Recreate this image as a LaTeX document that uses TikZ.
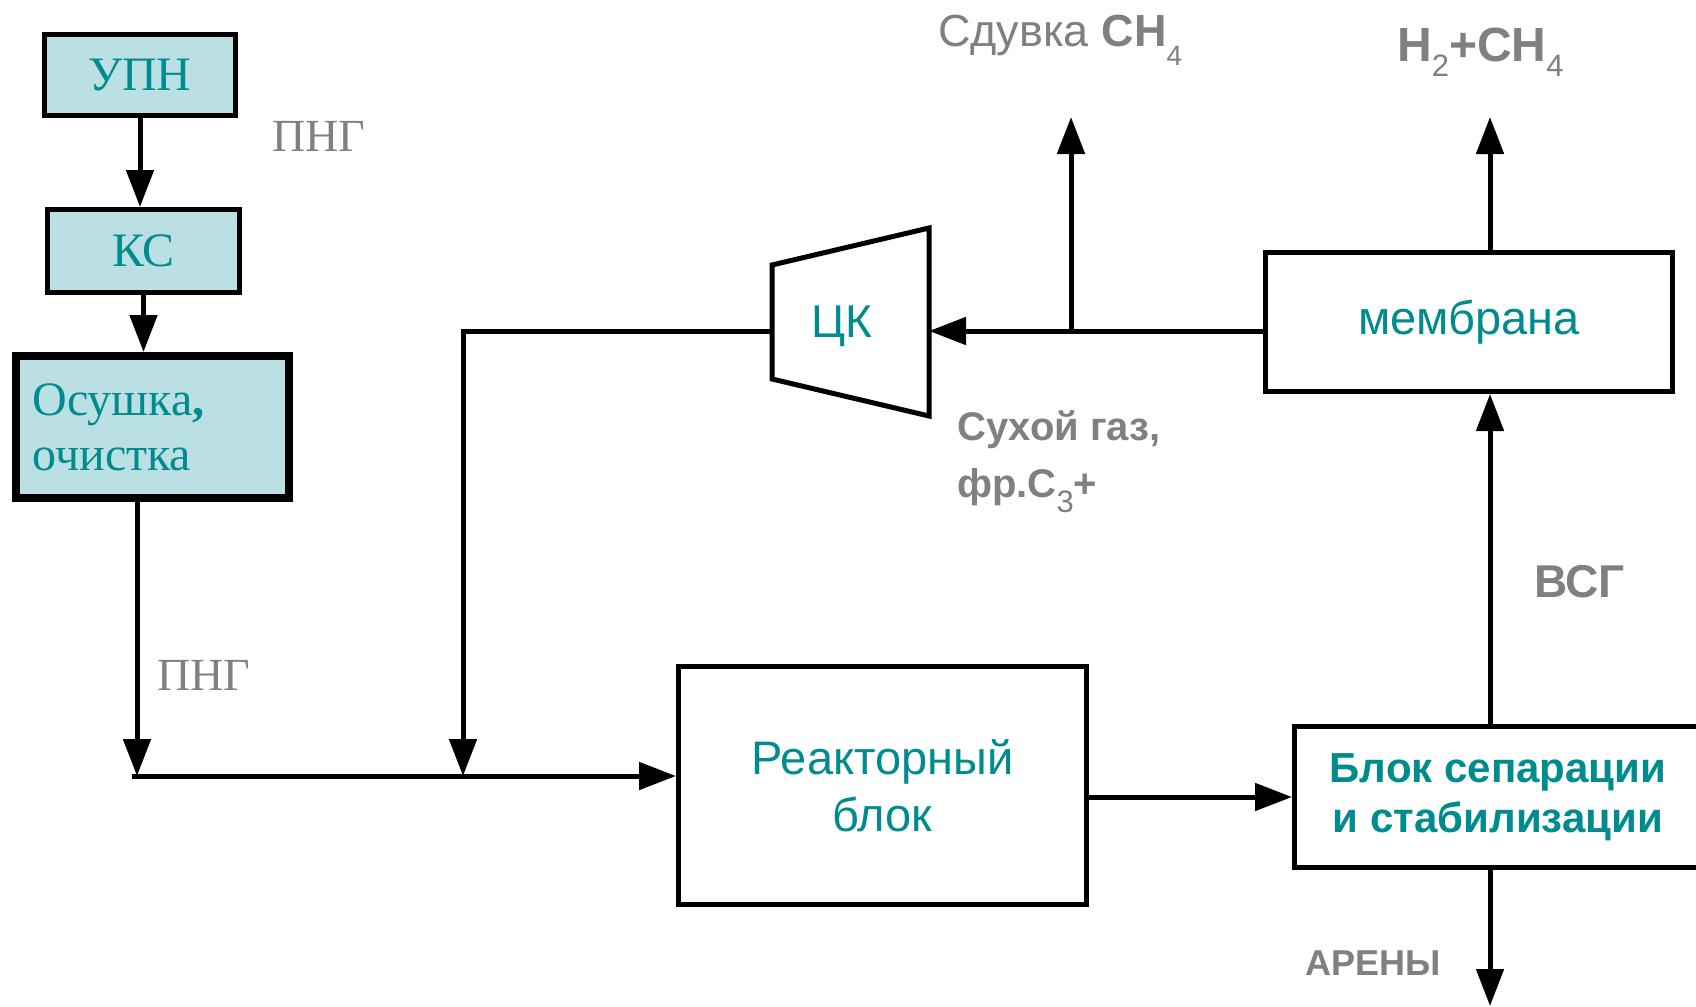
\documentclass[tikz,border=0pt]{standalone}
\usepackage{fontspec}
\setmainfont{Liberation Sans}
\newfontfamily\serifrm{Liberation Serif}
\usetikzlibrary{arrows.meta}
\definecolor{tealtx}{RGB}{0,139,143}
\definecolor{boxfill}{RGB}{186,224,227}
\definecolor{graytx}{RGB}{128,128,128}
\newcommand\lowsub[3]{\raisebox{-#2pt}{\fontsize{#1}{#1}\selectfont\mdseries #3}}
\begin{document}
\begin{tikzpicture}[x=1pt,y=-1pt,
  flow/.style={-{Triangle[length=37pt,width=27pt]}, line width=5pt},
  cbox/.style={draw, fill=boxfill, line width=5pt, inner sep=0pt, text=tealtx,
    font=\serifrm\fontsize{48}{55}\selectfont},
  wbox/.style={draw, fill=white, line width=5pt, inner sep=0pt, text=tealtx, align=center},
  glabel/.style={text=graytx, inner sep=0pt},
  serlabel/.style={glabel, font=\serifrm\fontsize{46}{50}\selectfont}]
\useasboundingbox (0,0) rectangle (1696,1006);
\clip (0,0) rectangle (1696,1006);
\fill[white] (0,0) rectangle (1696,1006);

% left column
\node[cbox, minimum width=191pt, minimum height=81pt] (upn) at (140,75) {УПН};
\node[cbox, minimum width=192pt, minimum height=83pt] (ks) at (143.5,251) {КС};
\node[cbox, line width=8pt, minimum width=273pt, minimum height=142pt,
      text width=240pt, align=left] (osh) at (152.5,427) {Осушка{\bfseries,}\\очистка};

% main blocks
\node[wbox, minimum width=408pt, minimum height=238pt,
      font=\fontsize{47}{57}\selectfont] (reactor) at (882.5,785.5) {Реакторный\\блок};
\node[wbox, minimum width=407pt, minimum height=139pt,
      font=\fontsize{47}{55}\selectfont] (mem) at (1469,322) {мембрана};
\node[wbox, minimum width=407pt, minimum height=141pt,
      font=\bfseries\fontsize{42}{50}\selectfont] (sep) at (1498,797) {Блок сепарации\\и стабилизации};

% compressor (trapezoid)
\draw[line width=5pt, line join=miter] (772,265) -- (929,228) -- (929,416) -- (772,379) -- cycle;
\node[text=tealtx, inner sep=0pt, font=\fontsize{46}{50}\selectfont] (ck) at (842,326) {ЦК};
\coordinate (ckL) at (772,331);
\coordinate (ckR) at (929,331);

% helper coordinates
\coordinate (j1) at (137,776);
\coordinate (s0) at (132,776);
\coordinate (c1) at (463,331);
\coordinate (j2) at (463,776);
\coordinate (b1) at (1071,331);
\coordinate (t1) at (1071,117);
\coordinate (col) at (1490,0);
\coordinate (bt) at (1490,1006);

% connectors
\draw[flow] (upn.south) -- (upn.south |- ks.north);
\draw[flow] (ks.south) -- (ks.south |- osh.north);
\draw[flow] (osh.south -| j1) -- (j1);
\draw[flow] (s0) -- (s0 -| reactor.west);
\draw[flow] (ckL) -- (c1) -- (j2);
\draw[flow] (mem.west |- ckR) -- (ckR);
\draw[flow] (b1) -- (t1);
\draw[flow] (mem.north -| col) -- (col |- t1);
\draw[flow] (reactor.east |- sep.west) -- (sep.west);
\draw[flow] (sep.north -| col) -- (mem.south -| col);
\draw[flow] (sep.south -| col) -- (bt);

% labels
\node[serlabel] (png1) at (319,136) {ПНГ};
\node[serlabel] (png2) at (204,675) {ПНГ};
\node[glabel, anchor=base west, font=\fontsize{45}{50}\selectfont] (sduv) at (938,47)
  {Сдувка \textbf{CH}\lowsub{28}{19}{4}};
\node[glabel, anchor=base west, font=\bfseries\fontsize{48}{50}\selectfont] (h2) at (1397,62)
  {H\lowsub{31}{15}{2}+CH\lowsub{31}{15}{4}};
\node[glabel, anchor=base west, align=left, font=\bfseries\fontsize{40}{57}\selectfont] (sux) at (957,497)
  {Сухой газ,\\фр.C\lowsub{31}{15}{3}+};
\node[glabel, anchor=base west, font=\bfseries\fontsize{46}{50}\selectfont] (vsg) at (1534,597) {ВСГ};
\node[glabel, anchor=base west, font=\bfseries\fontsize{36}{40}\selectfont] (aren) at (1305,975) {АРЕНЫ};
\end{tikzpicture}
\end{document}
